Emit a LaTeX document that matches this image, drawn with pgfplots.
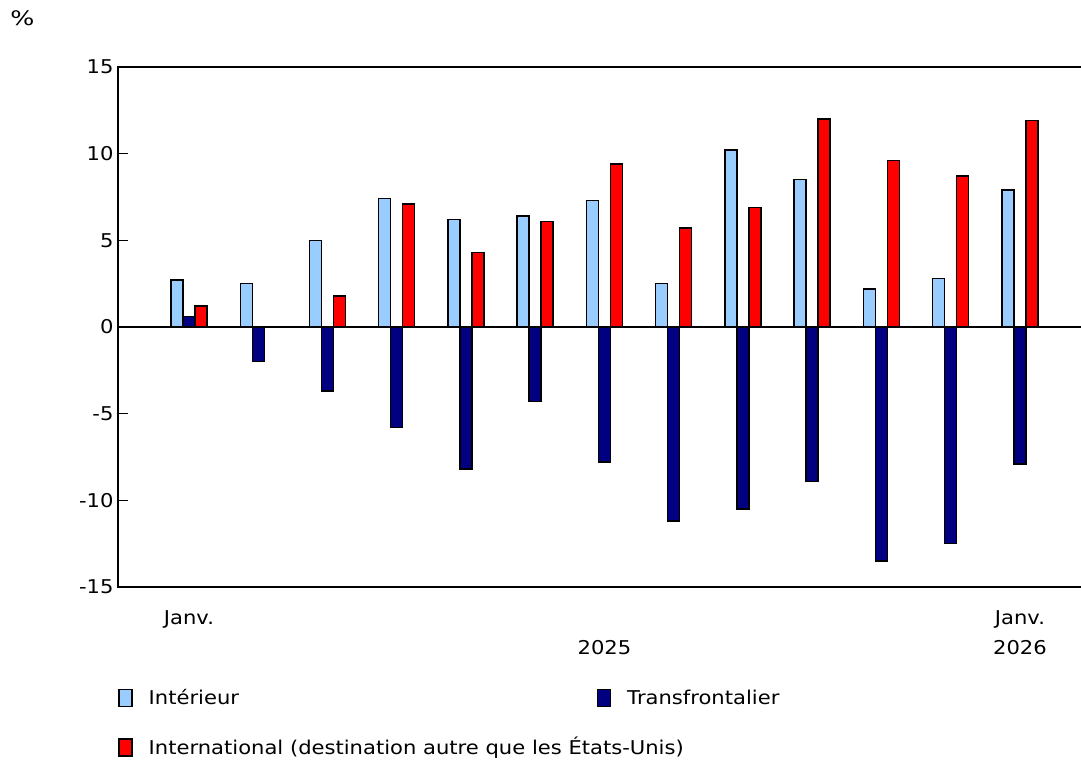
\documentclass[border=0pt]{standalone}
\usepackage{graphicx}
\usepackage{pgfplots}
\pgfplotsset{compat=1.18}
\usepackage{fontspec}
\setmainfont{DejaVu Sans}[FakeStretch=1.11]
\definecolor{cInt}{HTML}{99CCFF}
\definecolor{cTra}{HTML}{000080}
\definecolor{cIntl}{HTML}{FF0000}
\begin{document}
\fontsize{19}{30}\selectfont
\begin{tikzpicture}[x=1pt,y=1pt]
\path[use as bounding box] (0,0) rectangle (1081,-762);
\node at (22.5,-18) {\scalebox{1.2}[1.05]{\%}};
\begin{axis}[
  at={(118pt,-587pt)}, anchor=south west,
  scale only axis, width=967pt, height=520pt,
  xmin=-1.0253, xmax=12.939, ymin=-15, ymax=15,
  ybar=0pt, bar width=12pt,
  axis line style={black, line width=1.3pt},
  ytick={-15,-10,-5,0,5,10,15},
  ytick pos=left, tick align=inside, major tick length=10pt,
  y tick style={black, line width=1.3pt},
  /pgf/number format/assume math mode=true,
  yticklabel style={/pgf/number format/fixed, xshift=2pt},
  xtick={0,6,12},
  xticklabels={{\strut Janv.\\\strut}, {\strut\\\strut 2025}, {\strut Janv.\\\strut 2026}},
  xticklabel style={align=center, yshift=-10pt},
  x tick style={draw=none},
  extra y ticks={0}, extra y tick labels={},
  extra y tick style={grid=major, major grid style={black, line width=1.3pt}, major tick length=0pt},
  legend columns=2,
  legend cell align=left,
  legend image code/.code={\draw[#1, line width=1.5pt] (0pt,-8.5pt) rectangle (13pt,8.5pt);},
  legend style={draw=none, fill=none, at={(rel axis cs:0,0)}, anchor=north west, xshift=0pt, yshift=-100pt,
    inner sep=0pt, row sep=26pt,
    /tikz/every odd column/.append style={column sep=14pt}},
]
\addplot[fill=cInt, draw=black, line width=1.5pt] coordinates {
(0,2.7) (1,2.5) (2,5.0) (3,7.4) (4,6.2) (5,6.4) (6,7.3) (7,2.5) (8,10.2) (9,8.5) (10,2.2) (11,2.8) (12,7.9)};
\addplot[fill=cTra, draw=black, line width=1.5pt] coordinates {
(0,0.6) (1,-2.0) (2,-3.7) (3,-5.8) (4,-8.2) (5,-4.3) (6,-7.8) (7,-11.2) (8,-10.5) (9,-8.9) (10,-13.5) (11,-12.5) (12,-7.9)};
\addplot[fill=cIntl, draw=black, line width=1.5pt] coordinates {
(0,1.2) (2,1.8) (3,7.1) (4,4.3) (5,6.1) (6,9.4) (7,5.7) (8,6.9) (9,12.0) (10,9.6) (11,8.7) (12,11.9)};
\addlegendentry{\makebox[446pt][l]{Intérieur}}
\addlegendentry{Transfrontalier}
\addlegendentry{\makebox[446pt][l]{International (destination autre que les États-Unis)}}
\end{axis}
\end{tikzpicture}
\end{document}
